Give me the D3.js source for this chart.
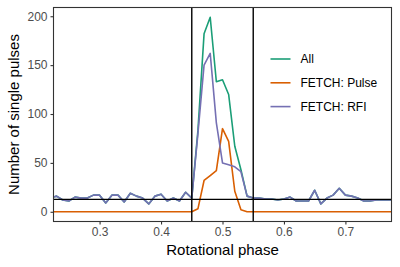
<!DOCTYPE html>
<html>
<head>
<meta charset="utf-8">
<script src="https://cdn.jsdelivr.net/npm/d3@7"></script>
<style>
  body { margin: 0; background: #fff; }
  svg { display: block; font-family: "Liberation Sans", Arial, sans-serif; }
</style>
</head>
<body>
<div id="chart"></div>
<script>
// phase bins
const phase = [
  0.22, 0.23, 0.24, 0.25, 0.26, 0.27, 0.28, 0.29, 0.30, 0.31,
  0.32, 0.33, 0.34, 0.35, 0.36, 0.37, 0.38, 0.39, 0.40, 0.41,
  0.42, 0.43, 0.44, 0.45, 0.46, 0.47, 0.48, 0.49, 0.50, 0.51,
  0.52, 0.53, 0.54, 0.55, 0.56, 0.57, 0.58, 0.59, 0.60, 0.61,
  0.62, 0.63, 0.64, 0.65, 0.66, 0.67, 0.68, 0.69, 0.70, 0.71,
  0.72, 0.73, 0.74, 0.75, 0.76, 0.77, 0.78
];
const allPulses = [
  14, 16, 12, 11, 15, 14, 14, 17, 17, 9,
  17, 17, 10, 19, 16, 14, 8, 16, 18, 11,
  14, 11, 20, 14, 83, 182, 199, 133, 135, 120,
  67, 43, 16, 14, 14, 13, 13, 12, 13, 15,
  11, 11, 11, 22, 8, 14, 17, 24, 17, 16,
  14, 11, 11, 12, 12, 12, 12
];
const fetchPulse = [
  0, 0, 0, 0, 0, 0, 0, 0, 0, 0,
  0, 0, 0, 0, 0, 0, 0, 0, 0, 0,
  0, 0, 0, 0, 3, 32, 37, 42, 85, 72,
  21, 2, 0, 0, 0, 0, 0, 0, 0, 0,
  0, 0, 0, 0, 0, 0, 0, 0, 0, 0,
  0, 0, 0, 0, 0, 0, 0
];
const fetchRFI = [
  14, 16, 12, 11, 15, 14, 14, 17, 17, 9,
  17, 17, 10, 19, 16, 14, 8, 16, 18, 11,
  14, 11, 20, 14, 80, 150, 162, 91, 50, 48,
  46, 41, 16, 14, 14, 13, 13, 12, 13, 15,
  11, 11, 11, 22, 8, 14, 17, 24, 17, 16,
  14, 11, 11, 12, 12, 12, 12
];
const seriesNames = ["All", "FETCH: Pulse", "FETCH: RFI"];
const colors = ["#1B9E77", "#D95F02", "#7570B3"];
const xTicks = [0.3, 0.4, 0.5, 0.6, 0.7];
const yTicks = [0, 50, 100, 150, 200];
const windowEdges = [0.45, 0.55];
const offPulseLevel = 12.65;

const W = 400, H = 267;
const margin = { top: 7.5, right: 8.5, bottom: 45.5, left: 53.5 },
  width = W - margin.left - margin.right,
  height = H - margin.top - margin.bottom;

const svg = d3.select("#chart").append("svg")
  .attr("width", W).attr("height", H);

const g = svg.append("g")
  .attr("transform", `translate(${margin.left},${margin.top})`);

const x = d3.scaleLinear().domain([0.225, 0.775]).range([0, width]);
const y = d3.scaleLinear().domain([-9.95, 208.95]).range([height, 0]);

g.append("clipPath").attr("id", "clip")
  .append("rect").attr("width", width).attr("height", height);

const series = [allPulses, fetchPulse, fetchRFI].map((vals, i) => ({
  name: seriesNames[i],
  color: colors[i],
  values: phase.map((p, j) => ({ p, v: vals[j] }))
}));

const line = d3.line().x(d => x(d.p)).y(d => y(d.v));

const plot = g.append("g").attr("clip-path", "url(#clip)");

plot.selectAll(".series")
  .data(series)
  .enter()
  .append("path")
  .attr("class", "series")
  .attr("d", d => line(d.values))
  .attr("fill", "none")
  .attr("stroke", d => d.color)
  .attr("stroke-width", 1.6)
  .attr("stroke-linejoin", "round");

// on-pulse window and off-pulse mean
plot.selectAll(".vline")
  .data(windowEdges)
  .enter()
  .append("line")
  .attr("x1", d => x(d)).attr("x2", d => x(d))
  .attr("y1", 0).attr("y2", height)
  .attr("stroke", "#000").attr("stroke-width", 1.4);

plot.append("line")
  .attr("x1", 0).attr("x2", width)
  .attr("y1", y(offPulseLevel)).attr("y2", y(offPulseLevel))
  .attr("stroke", "#000").attr("stroke-width", 1.4);

// panel border
g.append("rect")
  .attr("width", width).attr("height", height)
  .attr("fill", "none").attr("stroke", "#333").attr("stroke-width", 1.1);

// axes
const xAxis = g.append("g")
  .attr("transform", `translate(0,${height})`)
  .call(d3.axisBottom(x).tickValues(xTicks).tickFormat(d3.format(".1f")).tickSize(3).tickPadding(3));
const yAxis = g.append("g")
  .call(d3.axisLeft(y).tickValues(yTicks).tickSize(3).tickPadding(3));

[xAxis, yAxis].forEach(a => {
  a.select(".domain").remove();
  a.selectAll("line").attr("stroke", "#333").attr("stroke-width", 1.1);
  a.selectAll("text").attr("fill", "#4D4D4D")
    .style("font-size", "12px").style("font-family", "Liberation Sans, Arial, sans-serif");
});

// axis titles
svg.append("text")
  .attr("x", margin.left + width / 2)
  .attr("y", 255)
  .attr("text-anchor", "middle")
  .style("font-size", "15px")
  .text("Rotational phase");

svg.append("text")
  .attr("transform", `translate(18.5,${margin.top + height / 2}) rotate(-90)`)
  .attr("text-anchor", "middle")
  .style("font-size", "15px")
  .text("Number of single pulses");

// legend
const legend = svg.append("g").attr("transform", "translate(270.5,59)");
const items = legend.selectAll(".item")
  .data(series)
  .enter()
  .append("g")
  .attr("transform", (d, i) => `translate(0,${i * 23.8})`);
items.append("line")
  .attr("x1", 0).attr("x2", 20)
  .attr("stroke", d => d.color).attr("stroke-width", 1.6);
items.append("text")
  .attr("x", 30).attr("y", 4.3)
  .style("font-size", "12px")
  .text(d => d.name);
</script>
</body>
</html>
